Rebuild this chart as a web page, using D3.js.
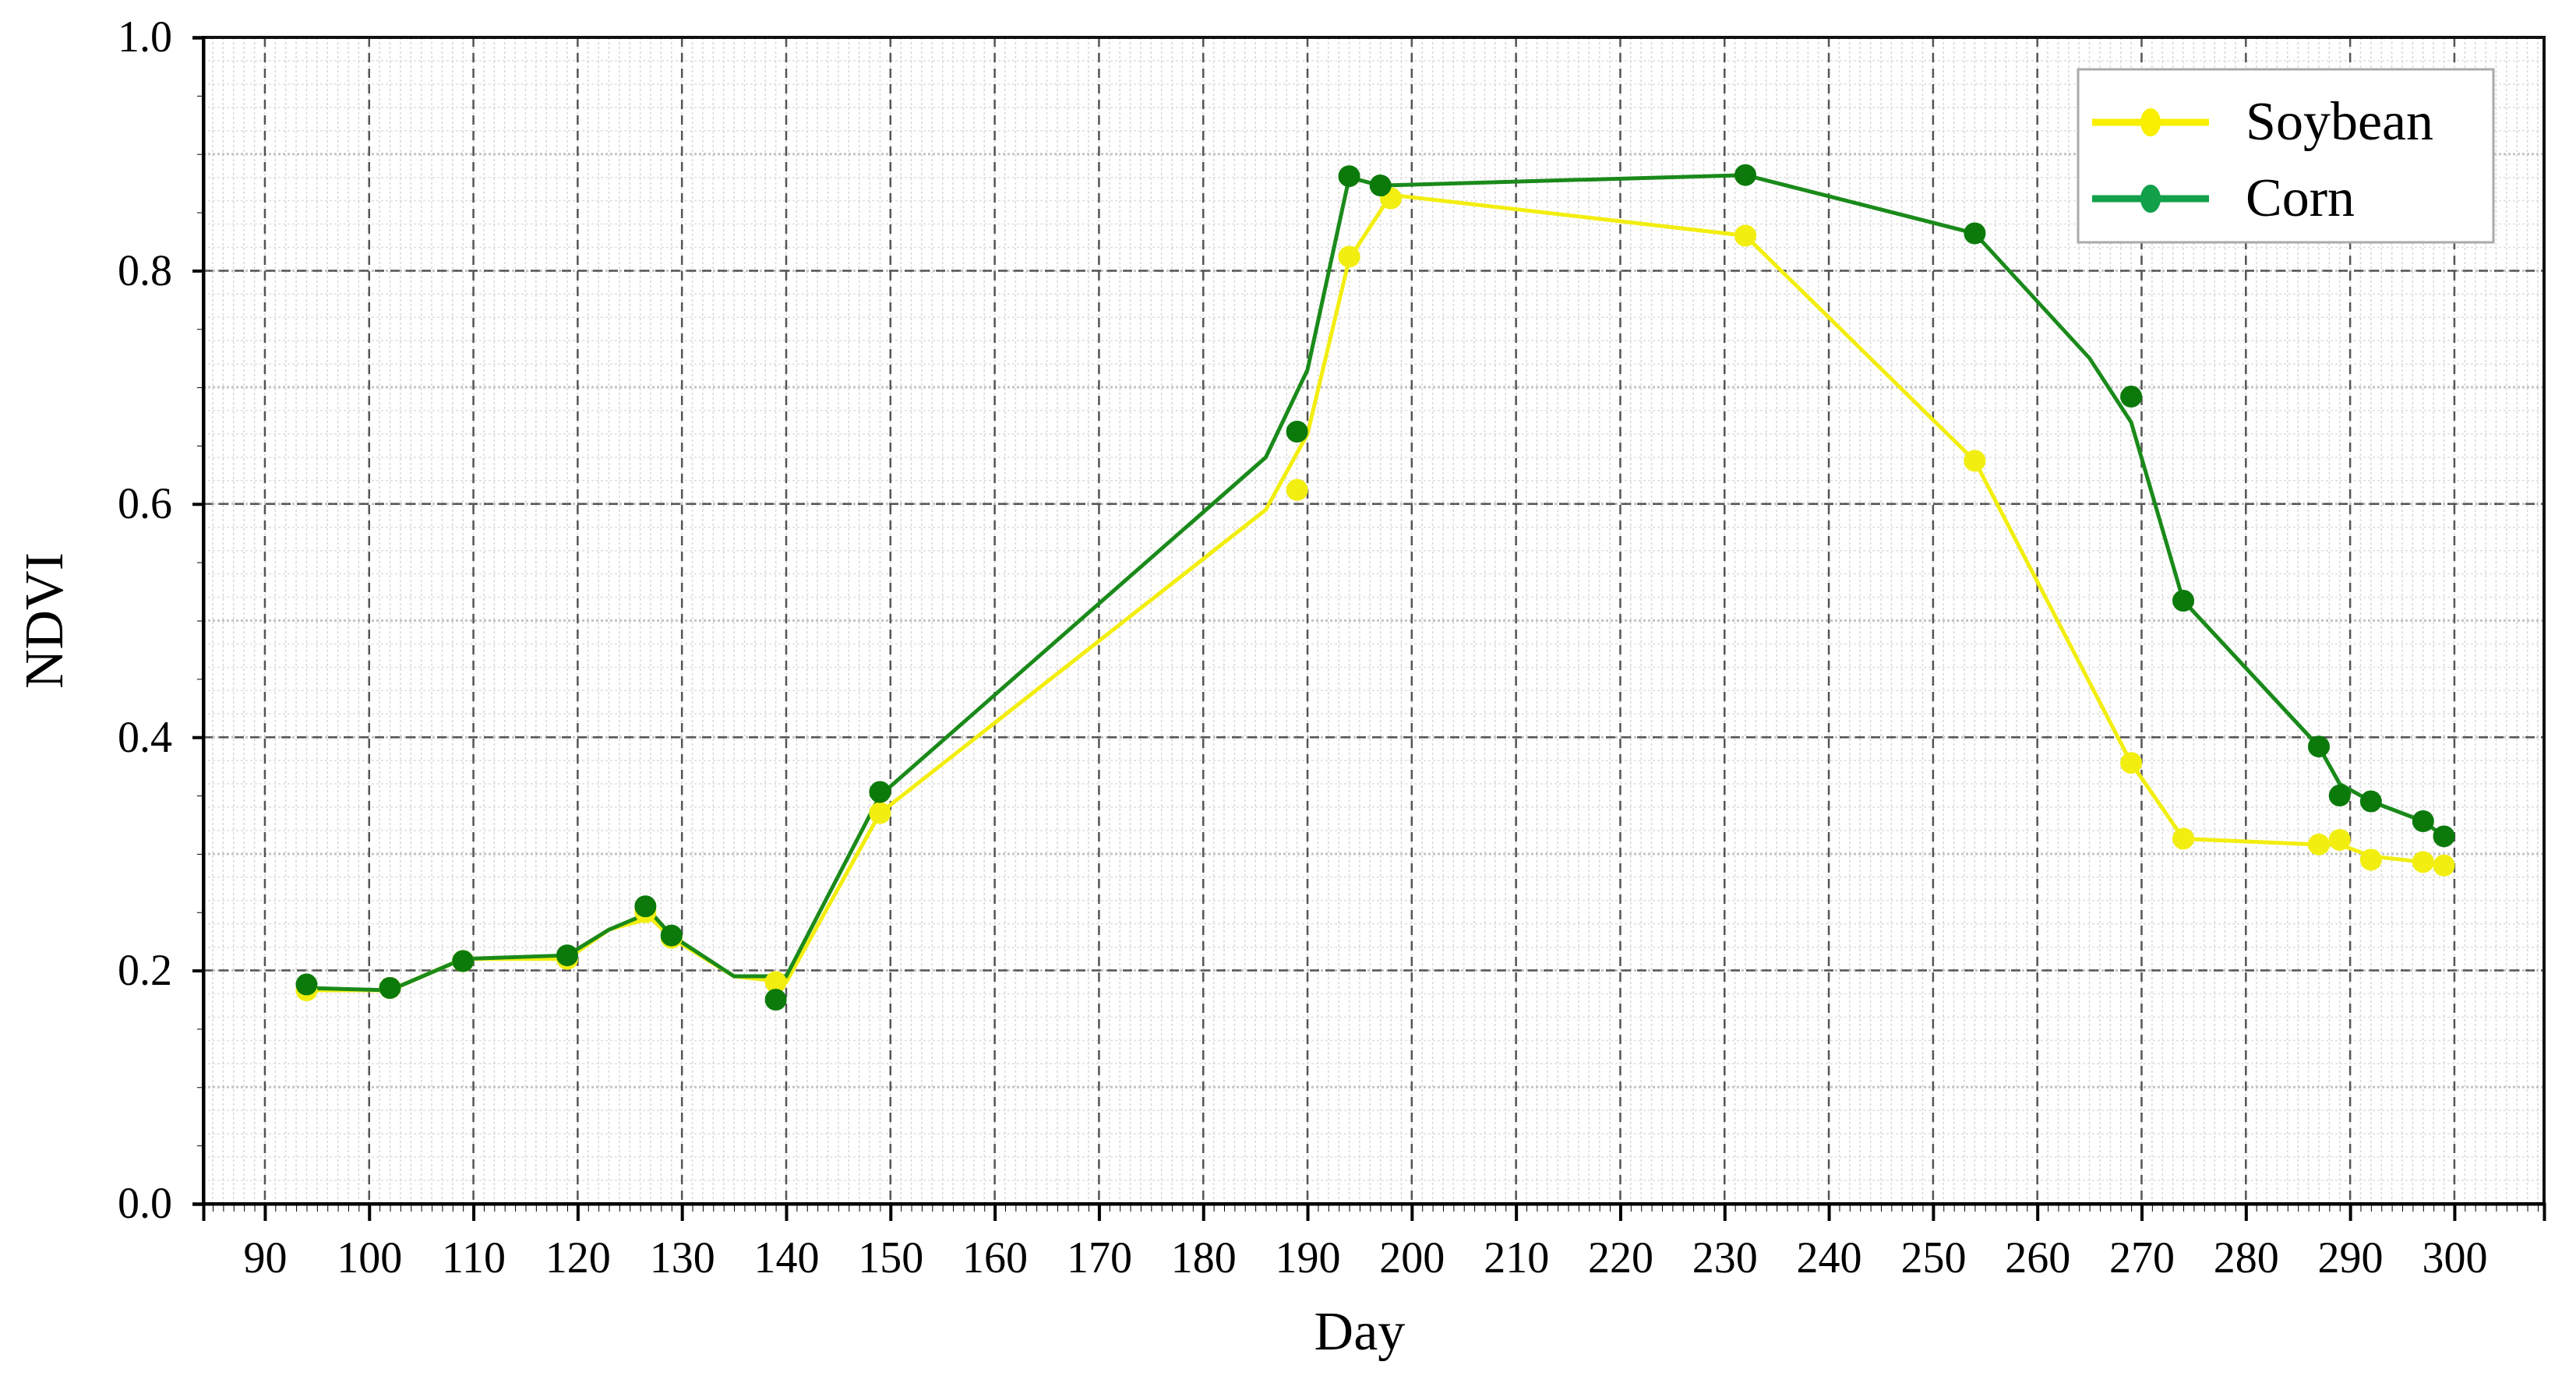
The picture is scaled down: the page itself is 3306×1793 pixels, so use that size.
<!DOCTYPE html>
<html>
<head>
<meta charset="utf-8">
<script src="https://cdn.jsdelivr.net/npm/d3@7"></script>
<style>
  body { margin: 0; background: #fff; }
  text { font-family: "Liberation Serif", "DejaVu Serif", serif; fill: #000; }
</style>
</head>
<body>
<svg id="chart" width="3306" height="1793"></svg>
<script>
// measured points (markers)
var soyDays = [94, 102, 109, 119, 126.5, 129, 139, 149, 189, 194, 198, 232, 254, 269, 274, 287, 289, 292, 297, 299];
var soyNdvi = [0.183, 0.185, 0.208, 0.21, 0.25, 0.228, 0.19, 0.335, 0.612, 0.812, 0.862, 0.83, 0.637, 0.378, 0.313, 0.308, 0.312, 0.295, 0.293, 0.29];
var cornDays = [94, 102, 109, 119, 126.5, 129, 139, 149, 189, 194, 197, 232, 254, 269, 274, 287, 289, 292, 297, 299];
var cornNdvi = [0.188, 0.185, 0.208, 0.213, 0.255, 0.23, 0.175, 0.353, 0.662, 0.881, 0.873, 0.882, 0.832, 0.692, 0.517, 0.392, 0.35, 0.345, 0.328, 0.315];

// fitted curves (lines)
var soyLineDays = [94, 102, 109, 119, 123, 127, 129, 135, 140, 149, 186, 190, 194, 198, 232, 254, 269, 274, 287, 289, 292, 297, 299];
var soyLineNdvi = [0.183, 0.183, 0.21, 0.21, 0.235, 0.245, 0.228, 0.195, 0.19, 0.335, 0.595, 0.66, 0.81, 0.865, 0.83, 0.637, 0.378, 0.313, 0.308, 0.308, 0.298, 0.293, 0.29];
var cornLineDays = [94, 102, 109, 119, 123, 127, 129, 135, 140, 149, 186, 190, 194, 197, 232, 254, 265, 269, 274, 287, 289, 292, 297, 299];
var cornLineNdvi = [0.185, 0.183, 0.21, 0.213, 0.235, 0.25, 0.23, 0.195, 0.195, 0.35, 0.64, 0.715, 0.88, 0.873, 0.882, 0.832, 0.725, 0.67, 0.517, 0.392, 0.36, 0.345, 0.328, 0.315];

var xTicks = d3.range(90, 301, 10);
var yTicks = [0.0, 0.2, 0.4, 0.6, 0.8, 1.0];

var svg = d3.select("#chart");
var pLeft = 261, pRight = 3265, pTop = 48, pBottom = 1545;

var x = d3.scaleLinear().domain([84.1, 308.6]).range([pLeft, pRight]);
var y = d3.scaleLinear().domain([0, 1]).range([pBottom, pTop]);

var grid = svg.append("g");

// minor grid
grid.selectAll("line.mx")
    .data(d3.range(85, 309, 1))
    .enter()
    .append("line")
    .attr("x1", function (d) { return x(d); })
    .attr("x2", function (d) { return x(d); })
    .attr("y1", pTop).attr("y2", pBottom)
    .attr("stroke", "#d8d8d8")
    .attr("stroke-width", 1.5)
    .attr("stroke-dasharray", "3,3");

grid.selectAll("line.my")
    .data(d3.range(0.02, 1, 0.02))
    .enter()
    .append("line")
    .attr("x1", pLeft).attr("x2", pRight)
    .attr("y1", function (d) { return y(d); })
    .attr("y2", function (d) { return y(d); })
    .attr("stroke", function (d) { return Math.abs(d * 10 - Math.round(d * 10)) < 0.01 ? "#c4c4c4" : "#dedede"; })
    .attr("stroke-width", function (d) { return Math.abs(d * 10 - Math.round(d * 10)) < 0.01 ? 3 : 1.5; })
    .attr("stroke-dasharray", "3,3");

// major grid
grid.selectAll("line.gx")
    .data(xTicks)
    .enter()
    .append("line")
    .attr("x1", function (d) { return x(d); })
    .attr("x2", function (d) { return x(d); })
    .attr("y1", pTop).attr("y2", pBottom)
    .attr("stroke", "#555")
    .attr("stroke-width", 2.5)
    .attr("stroke-dasharray", "12,8");

grid.selectAll("line.gy")
    .data(yTicks.slice(1, 5))
    .enter()
    .append("line")
    .attr("x1", pLeft).attr("x2", pRight)
    .attr("y1", function (d) { return y(d); })
    .attr("y2", function (d) { return y(d); })
    .attr("stroke", "#555")
    .attr("stroke-width", 2.5)
    .attr("stroke-dasharray", "12,8");

// frame
svg.append("rect")
    .attr("x", pLeft).attr("y", pTop)
    .attr("width", pRight - pLeft).attr("height", pBottom - pTop)
    .attr("fill", "none")
    .attr("stroke", "#111")
    .attr("stroke-width", 4);

// axes
var xAxis = svg.append("g")
    .attr("transform", "translate(0," + pBottom + ")")
    .call(d3.axisBottom(x).tickValues(xTicks).tickSize(22).tickPadding(26).tickFormat(d3.format("d")));
svg.append("g")
    .attr("transform", "translate(0," + pBottom + ")")
    .call(d3.axisBottom(x).tickValues(d3.range(85, 309, 1)).tickSize(10).tickFormat(""))
    .select(".domain").remove();
xAxis.selectAll("text").style("font-size", "56px");
xAxis.selectAll("line").attr("stroke-width", 4);
xAxis.select(".domain").attr("stroke-width", 4);

var yAxis = svg.append("g")
    .attr("transform", "translate(" + pLeft + ",0)")
    .call(d3.axisLeft(y).tickValues(yTicks).tickSize(14).tickPadding(26).tickFormat(d3.format(".1f")));
svg.append("g")
    .attr("transform", "translate(" + pLeft + ",0)")
    .call(d3.axisLeft(y).tickValues(d3.range(0.05, 1, 0.05)).tickSize(8).tickFormat(""))
    .select(".domain").remove();
yAxis.selectAll("text").style("font-size", "56px");
yAxis.selectAll("line").attr("stroke-width", 4);
yAxis.select(".domain").attr("stroke-width", 4);

svg.append("text")
    .attr("x", (x(90) + x(300)) / 2)
    .attr("y", 1732)
    .attr("text-anchor", "middle")
    .style("font-size", "70px")
    .text("Day");

svg.append("text")
    .attr("transform", "translate(80," + y(0.5) + ") rotate(-90)")
    .attr("text-anchor", "middle")
    .style("font-size", "70px")
    .text("NDVI");

// series
var series = [
    {name: "Soybean", lx: soyLineDays, ly: soyLineNdvi, px: soyDays, py: soyNdvi, line: "#f2ee10", dot: "#f2ee10", legend: "#f8f000"},
    {name: "Corn", lx: cornLineDays, ly: cornLineNdvi, px: cornDays, py: cornNdvi, line: "#1a8a1a", dot: "#0b7a0b", legend: "#12a04a"}
];

var line = d3.line()
    .x(function (d) { return x(d[0]); })
    .y(function (d) { return y(d[1]); });

series.forEach(function (s) {
    svg.append("path")
        .datum(d3.zip(s.lx, s.ly))
        .attr("d", line)
        .attr("fill", "none")
        .attr("stroke", s.line)
        .attr("stroke-width", 5);
});

series.forEach(function (s) {
    svg.append("g")
        .selectAll("circle")
        .data(d3.zip(s.px, s.py))
        .enter()
        .append("circle")
        .attr("cx", function (d) { return x(d[0]); })
        .attr("cy", function (d) { return y(d[1]); })
        .attr("r", 14)
        .attr("fill", s.dot);
});

// legend
var legend = svg.append("g").attr("transform", "translate(2667,89)");
legend.append("rect")
    .attr("width", 533).attr("height", 222)
    .attr("fill", "#fff")
    .attr("stroke", "#aaa")
    .attr("stroke-width", 3);

var item = legend.selectAll("g")
    .data(series)
    .enter()
    .append("g")
    .attr("transform", function (d, i) { return "translate(0," + (68 + i * 98) + ")"; });

item.append("line")
    .attr("x1", 18).attr("x2", 168)
    .attr("stroke", function (d) { return d.legend; })
    .attr("stroke-width", 9);
item.append("ellipse")
    .attr("cx", 93).attr("rx", 13).attr("ry", 18)
    .attr("fill", function (d) { return d.legend; });
item.append("text")
    .attr("x", 215).attr("y", 22)
    .style("font-size", "70px")
    .text(function (d) { return d.name; });
</script>
</body>
</html>
